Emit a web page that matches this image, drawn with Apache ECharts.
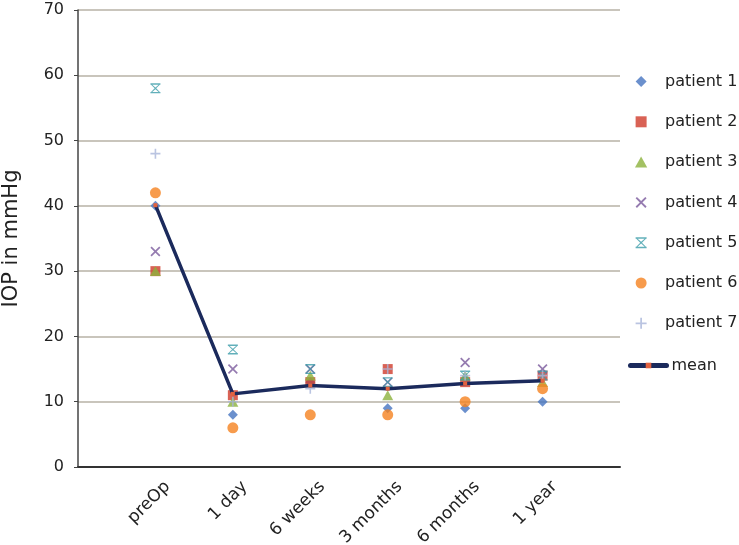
<!DOCTYPE html>
<html><head><meta charset="utf-8">
<script src="https://cdn.jsdelivr.net/npm/echarts@6/dist/echarts.min.js"></script>
<style>html,body{margin:0;padding:0;background:#fff}#c{width:739px;height:545px}</style>
</head><body><div id="c"></div>
<script>
const categories = ['preOp', '1 day', '6 weeks', '3 months', '6 months', '1 year'];
const patient1 = [40, 8, 13, 9, 9, 10];
const patient2 = [30, 11, 13, 15, 13, 14];
const patient3 = [30, 10, 14, 11, 14, 13];
const patient4 = [33, 15, 15, 13, 16, 15];
const patient5 = [58, 18, 15, 13, 14, 14];
const patient6 = [42, 6, 8, 8, 10, 12];
const patient7 = [48, 10, 12, 15, 14, 14];
const meanIOP = [40.1, 11.2, 12.5, 12.0, 12.8, 13.2];
const yTicks = [0, 10, 20, 30, 40, 50, 60, 70];
const catPositions = [1, 2, 3, 4, 5, 6];

const pairs = vals => vals.map((v, i) => [catPositions[i], v]);
const FONT = 'DejaVu Sans';
const diamondShape = 'path://M5,0 L10,5 L5,10 L0,5 Z';
const squareShape = 'path://M0,0 L10,0 L10,10 L0,10 Z';
const triangleShape = 'path://M5,0 L10,9 L0,9 Z';
const xShape = 'path://M0,1.2 L1.2,0 L5,3.8 L8.8,0 L10,1.2 L6.2,5 L10,8.8 L8.8,10 L5,6.2 L1.2,10 L0,8.8 L3.8,5 Z';
const starShape = 'path://M0,0 L10,0 L10,1.4 L0,1.4 Z M0,8.6 L10,8.6 L10,10 L0,10 Z M0.6,1.4 L1.8,1.4 L5,4.2 L8.2,1.4 L9.4,1.4 L5.8,5 L9.4,8.6 L8.2,8.6 L5,5.8 L1.8,8.6 L0.6,8.6 L4.2,5 Z';
const plusShape = 'path://M4.2,0 L5.8,0 L5.8,4.2 L10,4.2 L10,5.8 L5.8,5.8 L5.8,10 L4.2,10 L4.2,5.8 L0,5.8 L0,4.2 L4.2,4.2 Z';

const patients = [
  {name: 'patient 1', data: patient1, symbol: diamondShape, size: 10, color: '#4674c0'},
  {name: 'patient 2', data: patient2, symbol: squareShape, size: 10, color: '#d03b2b'},
  {name: 'patient 3', data: patient3, symbol: triangleShape, size: 11, color: '#8cb23c'},
  {name: 'patient 4', data: patient4, symbol: xShape, size: 10, color: '#7b5a9c'},
  {name: 'patient 5', data: patient5, symbol: starShape, size: 10, color: '#3b9ca9'},
  {name: 'patient 6', data: patient6, symbol: 'circle', size: 11, color: '#f5821f'},
  {name: 'patient 7', data: patient7, symbol: plusShape, size: 10, color: '#a9b5d9'}
];

const series = patients.map(p => ({
  name: p.name, type: 'scatter', data: pairs(p.data), symbol: p.symbol,
  symbolSize: p.size, symbolKeepAspect: true, itemStyle: {color: p.color},
  xAxisIndex: 0, yAxisIndex: 0
}));
series.push({
  name: 'mean', type: 'line', data: pairs(meanIOP), xAxisIndex: 0, yAxisIndex: 0,
  symbol: 'rect', symbolSize: 4, showSymbol: true,
  lineStyle: {color: '#1b2a5c', width: 3.5},
  itemStyle: {color: '#e2623f'}, z: 10
});

const chart = echarts.init(document.getElementById('c'), null, {renderer: 'canvas'});
chart.setOption({
  animation: false,
  backgroundColor: '#fff',
  textStyle: {fontFamily: FONT},
  grid: {left: 78, right: 119, top: 10, bottom: 78, containLabel: false, outerBoundsMode: 'none'},
  xAxis: [{
    type: 'value', min: 0, max: 7, interval: 1,
    axisLine: {show: true, lineStyle: {color: '#333', width: 2}},
    axisTick: {show: false}, axisLabel: {show: false}, splitLine: {show: false}
  }, {
    type: 'value', min: -0.155, max: 6.845, position: 'bottom',
    axisLine: {show: false}, axisTick: {show: false}, splitLine: {show: false},
    axisLabel: {
      customValues: catPositions,
      formatter: v => categories[Math.round(v) - 1] || '',
      rotate: 45, margin: 17, fontSize: 17, color: '#222', fontFamily: FONT
    }
  }],
  yAxis: {
    type: 'value', min: yTicks[0], max: yTicks[yTicks.length - 1], interval: 10,
    name: 'IOP in mmHg', nameLocation: 'middle', nameGap: 56,
    nameTextStyle: {fontSize: 21, color: '#222', fontFamily: FONT},
    axisLine: {show: true, lineStyle: {color: '#444', width: 1.5}},
    axisTick: {show: true, length: 4, lineStyle: {color: '#444'}},
    axisLabel: {fontSize: 16, color: '#222', margin: 14, fontFamily: FONT},
    splitLine: {show: true, lineStyle: {color: '#c9c5bc', width: 2}}
  },
  legend: [{
    data: patients.map(p => p.name), orient: 'vertical', left: 630, top: 68,
    itemWidth: 38, itemHeight: 11, itemGap: 23.3,
    textStyle: {fontSize: 16, color: '#222', fontFamily: FONT, lineHeight: 17}
  }, {
    data: ['mean'], orient: 'vertical', left: 623, top: 352,
    itemWidth: 36, itemHeight: 7,
    lineStyle: {width: 5, cap: 'round'},
    textStyle: {fontSize: 16, color: '#222', fontFamily: FONT, lineHeight: 17}
  }],
  series: series
});
</script></body></html>
